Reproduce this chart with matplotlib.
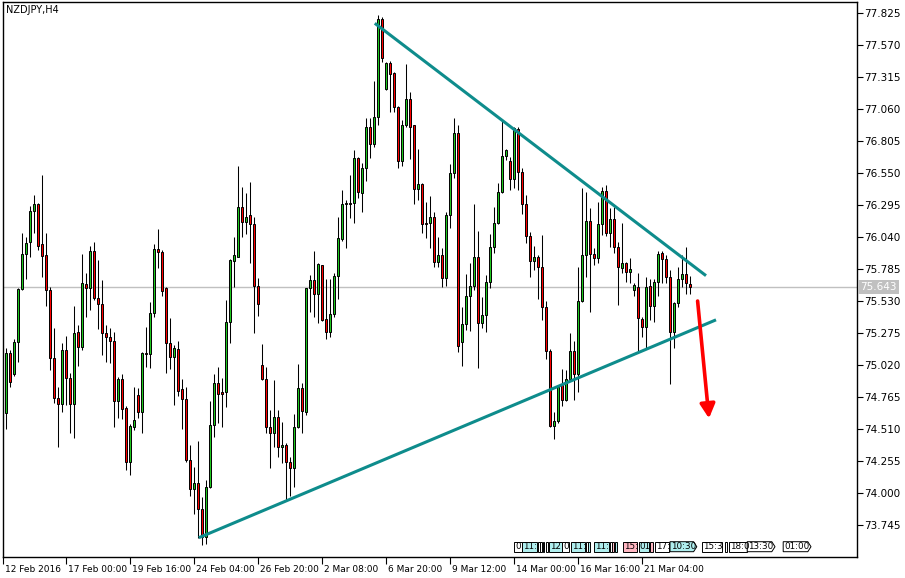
import matplotlib
matplotlib.use('Agg')
import matplotlib.pyplot as plt
import matplotlib.transforms as mtransforms
from matplotlib.patches import Polygon
import numpy as np

# NZDJPY H4 candles
opens = [74.635, 74.635, 75.113, 74.946, 75.201, 75.626, 75.902, 75.998, 76.247, 76.303,
         75.982, 75.897, 75.618, 75.073, 74.755, 74.707, 75.140, 74.914, 74.707, 75.281,
         75.161, 75.666, 75.631, 75.929, 75.551, 75.504, 75.273, 75.246, 75.211, 74.733,
         74.909, 74.675, 74.247, 74.529, 74.781, 74.648, 75.119, 75.105, 75.432, 75.942,
         75.923, 75.634, 75.198, 75.087, 75.145, 74.826, 74.747, 74.263, 74.030, 74.077,
         73.870, 73.652, 74.051, 74.539, 74.874, 74.802, 74.802, 75.360, 75.846, 75.883,
         76.276, 76.157, 76.213, 76.141, 75.652, 75.018, 74.906, 74.524, 74.481, 74.603,
         74.364, 74.383, 74.245, 74.202, 74.524, 74.834, 74.648, 75.631, 75.697, 75.586,
         75.814, 75.384, 75.286, 75.427, 75.729, 76.024, 76.300, 76.314, 76.309, 76.667,
         76.394, 76.587, 76.914, 76.779, 76.999, 77.775, 77.217, 77.424, 77.344, 77.079,
         76.646, 76.930, 77.137, 76.930, 76.420, 76.460, 76.154, 76.149, 76.197, 75.844,
         75.894, 75.716, 76.216, 76.548, 76.866, 75.201, 75.344, 75.570, 75.650, 75.878,
         75.352, 75.419, 75.679, 75.963, 76.149, 76.401, 76.686, 76.646, 76.505, 76.898,
         76.561, 76.300, 76.051, 75.852, 75.883, 75.798, 75.480, 75.134, 74.534, 74.574,
         74.866, 74.741, 74.909, 75.134, 74.949, 75.533, 75.899, 76.170, 75.905, 75.870,
         76.141, 76.409, 76.075, 76.181, 75.958, 75.796, 75.836, 75.759, 75.618, 75.644,
         75.384, 75.320, 75.650, 75.493, 75.679, 75.910, 75.862, 75.724, 75.286, 75.517,
         75.703, 75.743, 75.666]
highs = [75.087, 75.153, 75.140, 75.225, 75.631, 76.075, 76.043, 76.287, 76.375, 76.310,
         76.534, 76.075, 75.644, 75.312, 74.848, 75.193, 75.251, 74.954, 75.490, 75.336,
         75.905, 75.756, 75.968, 76.003, 75.857, 75.698, 75.339, 75.312, 75.286, 74.922,
         74.949, 74.690, 74.550, 74.848, 74.834, 75.126, 75.320, 75.525, 75.984, 76.104,
         75.937, 75.644, 75.397, 75.180, 75.211, 74.909, 74.848, 74.383, 74.210, 74.415,
         73.966, 74.104, 74.733, 74.948, 75.002, 74.917, 75.538, 75.865, 76.040, 76.606,
         76.439, 76.388, 76.478, 76.197, 75.713, 75.188, 75.002, 74.662, 74.901, 74.662,
         74.569, 74.396, 74.290, 74.630, 75.028, 74.879, 75.636, 75.737, 75.929, 75.830,
         75.820, 75.705, 75.703, 75.756, 76.197, 76.415, 76.335, 76.534, 76.733, 76.680,
         76.627, 76.986, 76.991, 77.283, 77.809, 77.796, 77.437, 77.443, 77.358, 77.085,
         76.973, 77.416, 77.196, 76.935, 76.741, 76.468, 76.322, 76.367, 76.242, 76.038,
         75.955, 76.242, 76.622, 76.986, 76.933, 75.485, 75.743, 75.830, 76.303, 76.091,
         75.565, 75.737, 76.064, 76.277, 76.473, 76.973, 76.739, 76.680, 76.919, 76.919,
         76.587, 76.375, 76.083, 75.968, 75.897, 76.056, 75.530, 75.145, 74.643, 74.861,
         74.986, 74.980, 75.273, 75.214, 75.804, 76.428, 76.401, 76.269, 75.950, 76.322,
         76.441, 76.454, 76.269, 76.282, 76.003, 76.149, 75.844, 75.870, 75.676, 75.751,
         75.405, 75.724, 75.703, 75.705, 75.929, 75.929, 75.897, 75.777, 75.525, 75.804,
         75.897, 75.958, 75.729]
lows = [74.622, 74.508, 74.848, 74.935, 75.047, 75.618, 75.703, 75.883, 76.069, 75.937,
        75.724, 75.493, 74.980, 74.715, 74.370, 74.648, 74.702, 74.481, 74.441, 75.015,
        75.140, 75.405, 75.458, 75.538, 75.307, 75.100, 75.047, 75.034, 74.529, 74.601,
        74.587, 74.184, 74.144, 74.502, 74.595, 74.476, 75.007, 74.999, 75.405, 75.790,
        75.570, 74.954, 74.986, 74.702, 74.773, 74.508, 74.250, 73.976, 73.833, 73.639,
        73.586, 73.591, 74.037, 74.449, 74.555, 74.523, 74.688, 75.198, 75.639, 75.880,
        76.043, 76.064, 75.836, 75.273, 75.413, 74.901, 74.476, 74.197, 74.369, 74.285,
        74.237, 73.945, 73.976, 74.051, 74.516, 74.481, 74.622, 75.445, 75.400, 75.358,
        75.373, 75.227, 75.241, 75.405, 75.543, 76.011, 75.950, 76.189, 76.149, 76.348,
        76.242, 76.489, 76.667, 76.760, 76.933, 77.437, 77.210, 77.039, 77.039, 76.587,
        76.609, 76.919, 76.662, 76.301, 76.335, 76.069, 76.035, 75.950, 75.799, 75.804,
        75.639, 75.650, 76.115, 76.513, 75.127, 75.012, 75.299, 75.291, 75.618, 74.994,
        75.313, 75.286, 75.631, 75.915, 76.144, 76.388, 76.654, 76.415, 76.428, 76.415,
        76.221, 75.990, 75.719, 75.777, 75.543, 75.379, 75.065, 74.524, 74.428, 74.561,
        74.694, 74.736, 74.901, 74.741, 74.808, 75.525, 75.724, 75.445, 75.817, 75.836,
        76.056, 76.048, 75.963, 75.910, 75.498, 75.751, 75.684, 75.676, 75.570, 75.126,
        75.246, 75.153, 75.379, 75.366, 75.570, 75.676, 75.671, 74.866, 75.153, 75.485,
        75.644, 75.586, 75.586]
closes = [75.073, 75.113, 74.882, 75.201, 75.626, 75.902, 75.990, 76.247, 76.303, 75.971,
          75.891, 75.618, 75.073, 74.755, 74.707, 75.140, 74.914, 74.707, 75.273, 75.161,
          75.671, 75.631, 75.929, 75.551, 75.504, 75.273, 75.246, 75.214, 74.733, 74.909,
          74.667, 74.247, 74.534, 74.582, 74.648, 75.119, 75.105, 75.432, 75.942, 75.923,
          75.613, 75.198, 75.087, 75.153, 74.816, 74.747, 74.263, 74.030, 74.077, 73.870,
          73.652, 74.051, 74.539, 74.874, 74.786, 74.786, 75.360, 75.857, 75.894, 76.276,
          76.157, 76.202, 76.141, 75.652, 75.504, 74.906, 74.524, 74.481, 74.603, 74.364,
          74.383, 74.250, 74.202, 74.524, 74.834, 74.656, 75.631, 75.697, 75.586, 75.822,
          75.379, 75.286, 75.427, 75.729, 76.029, 76.300, 76.314, 76.301, 76.667, 76.401,
          76.587, 76.914, 76.779, 76.999, 77.775, 77.469, 77.424, 77.336, 77.079, 76.646,
          76.930, 77.137, 76.919, 76.420, 76.460, 76.141, 76.141, 76.197, 75.844, 75.894,
          75.716, 76.216, 76.548, 76.866, 75.172, 75.344, 75.570, 75.650, 75.878, 75.352,
          75.419, 75.679, 75.963, 76.149, 76.401, 76.686, 76.733, 76.500, 76.911, 76.561,
          76.300, 76.051, 75.849, 75.878, 75.798, 75.480, 75.134, 74.534, 74.574, 74.842,
          74.741, 74.909, 75.134, 74.949, 75.533, 75.899, 76.170, 75.905, 75.870, 76.141,
          76.409, 76.075, 76.181, 75.958, 75.798, 75.836, 75.759, 75.785, 75.658, 75.392,
          75.326, 75.644, 75.493, 75.679, 75.902, 75.862, 75.724, 75.286, 75.517, 75.703,
          75.743, 75.671, 75.643]

bid = 75.643

date_labels = ['12 Feb 2016', '17 Feb 00:00', '19 Feb 16:00', '24 Feb 04:00', '26 Feb 20:00',
               '2 Mar 08:00', '6 Mar 20:00', '9 Mar 12:00', '14 Mar 00:00', '16 Mar 16:00',
               '21 Mar 04:00']
date_bars = [0, 16, 32, 48, 64, 80, 96, 112, 128, 144, 160]

price_ticks = [73.745 + 0.255 * i for i in range(17)]

# trend lines (bar index, price)
upper_line = ([93.2, 176.0], [77.743, 75.732])
lower_line = ([49.2, 178.5], [73.644, 75.380])
arrow_from = (173.9, 75.530)
arrow_to = (176.75, 74.595)

# calendar event boxes at the bottom: (start bar, end bar, text, kind, pointed)
events = [
    (128.1, 130.0, '0', 'w', False), (130.1, 133.8, '11:', 'c', False),
    (134.0, 134.4, '', 'w', False), (134.6, 135.0, '', 'w', False), (135.2, 135.6, '', 'c', False),
    (136.1, 136.6, '', 'w', False), (136.8, 139.9, '12', 'c', False), (140.0, 141.75, '0', 'w', False),
    (142.2, 145.75, '11:', 'c', False), (146.0, 146.4, '', 'w', False), (146.6, 147.0, '', 'c', False),
    (148.0, 151.75, '11:', 'c', False), (152.0, 152.4, '', 'w', False), (152.6, 153.0, '', 'p', False),
    (153.3, 153.7, '', 'c', False), (155.2, 158.8, '15:', 'p', False), (159.2, 161.8, '01', 'c', False),
    (162.0, 162.7, '', 'p', False), (163.2, 166.8, '17:', 'w', False), (167.0, 173.7, '10:30', 'c', True),
    (174.9, 179.9, '15:3', 'w', False), (180.8, 181.3, '', 'w', False), (181.7, 186.2, '18:0', 'w', False),
    (186.3, 193.25, '13:30', 'w', True), (195.3, 202.25, '01:00', 'w', True),
]
event_colors = {'w': 'white', 'c': '#AFEEEE', 'p': '#FFB6C1'}

W, H, DPI = 905, 578, 100
fig = plt.figure(figsize=(W / DPI, H / DPI), dpi=DPI)
ax = fig.add_axes([3 / W, 21 / H, 854 / W, 555 / H])
plt.rcParams['font.family'] = ['DejaVu Sans']

x = np.arange(len(opens))
o = np.array(opens)
h = np.array(highs)
l = np.array(lows)
c = np.array(closes)
up = c >= o

ax.axhline(bid, color='#C0C0C0', lw=1, zorder=1)
ax.vlines(x, l, h, color='black', lw=0.75, zorder=2)
body_lo = np.minimum(o, c)
body_h = np.maximum(np.abs(c - o), 0.004)
ax.bar(x, body_h, bottom=body_lo, width=0.65,
       color=np.where(up, '#1EC81E', '#FF0000'), edgecolor='black', linewidth=0.7, zorder=3)

ax.plot(*upper_line, color='#0E8C8C', lw=2.2, zorder=4, solid_capstyle='butt')
ax.plot(*lower_line, color='#0E8C8C', lw=2.2, zorder=4, solid_capstyle='butt')
ax.annotate('', xy=arrow_to, xytext=arrow_from,
            arrowprops=dict(arrowstyle='-|>,head_length=0.85,head_width=0.45',
                            color='#FF0000', lw=2.6, mutation_scale=10, shrinkA=0, shrinkB=0),
            zorder=5)

ax.set_xlim(0.25, 213.75)
ax.set_ylim(73.4903, 77.9126)

# event boxes, y in axes fraction
ev_y0 = (557 - 551.7) / 555
ev_h = 10.0 / 555
ebt = mtransforms.blended_transform_factory(ax.transData, ax.transAxes)
for x0, x1, txt, kind, pointed in events:
    if pointed:
        pts = [(x0, ev_y0), (x1 - 0.8, ev_y0), (x1, ev_y0 + ev_h / 2),
               (x1 - 0.8, ev_y0 + ev_h), (x0, ev_y0 + ev_h)]
    else:
        pts = [(x0, ev_y0), (x1, ev_y0), (x1, ev_y0 + ev_h), (x0, ev_y0 + ev_h)]
    box = Polygon(pts, closed=True, transform=ebt, facecolor=event_colors[kind],
                  edgecolor='black', linewidth=0.7, zorder=6)
    ax.add_patch(box)
    if txt:
        ax.text(x0 + 0.25, ev_y0 + ev_h / 2, txt, transform=ebt, fontsize=6.3,
                va='center', ha='left', zorder=7)

for s in ax.spines.values():
    s.set_color('black')
    s.set_linewidth(1)

ax.yaxis.tick_right()
ax.set_yticks(price_ticks)
ax.set_yticklabels(['%.3f' % p for p in price_ticks])
ax.tick_params(axis='y', direction='out', length=4, width=0.8, labelsize=7.5, pad=1)

ax.set_xticks([max(b, 0.26) for b in date_bars])
ax.set_xticklabels(date_labels)
ax.tick_params(axis='x', direction='out', length=5, width=0.8, labelsize=6.5, pad=0.5)
shift = mtransforms.ScaledTranslation(2 / DPI, 0, fig.dpi_scale_trans)
for lbl in ax.get_xticklabels():
    lbl.set_ha('left')
    lbl.set_transform(lbl.get_transform() + shift)

ax.text(3 / 854, 1 - 8 / 555, 'NZDJPY,H4', transform=ax.transAxes, fontsize=7,
        ha='left', va='center')

bt = mtransforms.blended_transform_factory(ax.transAxes, ax.transData)
ax.text(1 + 3 / 854, bid, '%.3f' % bid, transform=bt, fontsize=7.5, color='white',
        ha='left', va='center', clip_on=False,
        bbox=dict(boxstyle='square,pad=0.2', facecolor='#C0C0C0', edgecolor='none'))

fig.savefig('out.png', dpi=DPI)
